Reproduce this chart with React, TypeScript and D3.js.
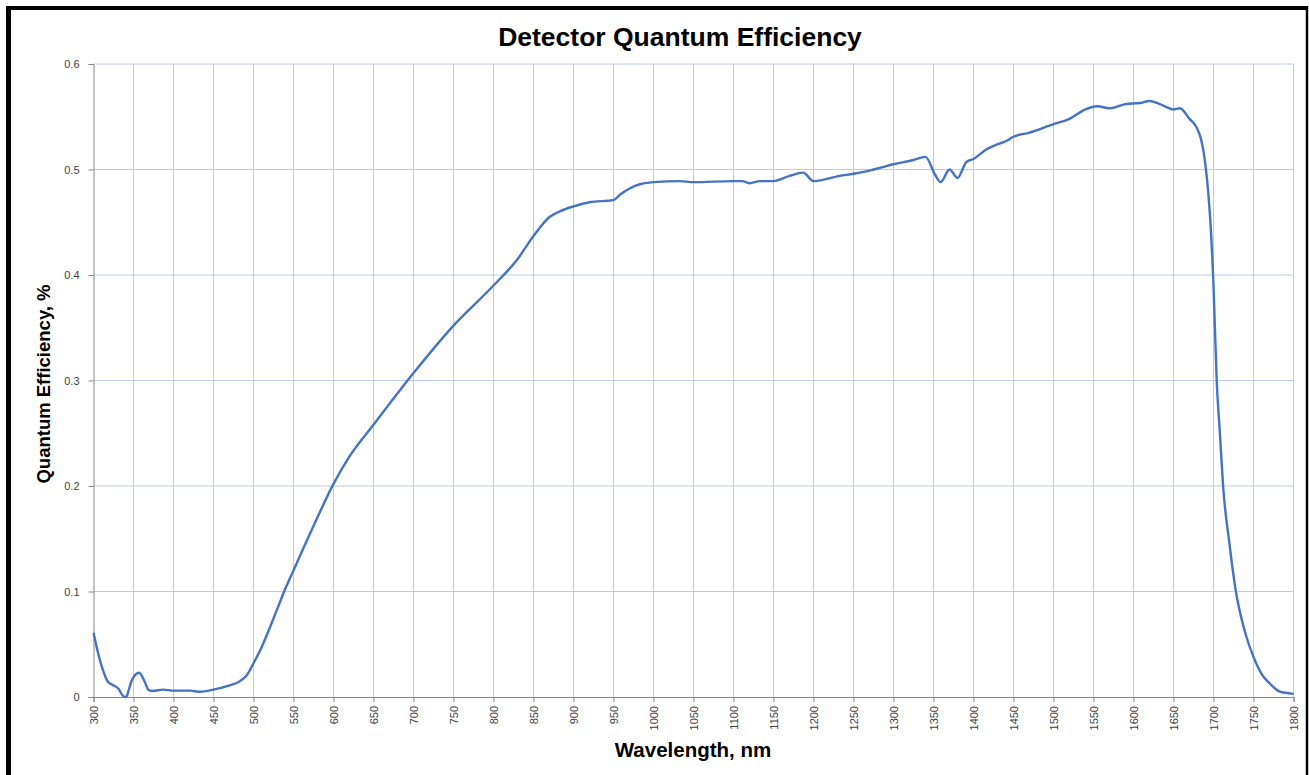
import { useEffect, useRef } from "react";
import * as d3 from "d3";

// wavelength (nm)
const wavelengths = [
  300, 308, 312, 318, 325, 331, 337, 341, 343, 348, 357, 364, 369, 374, 387, 400, 421, 433, 450,
  470, 483, 492, 500, 510, 520, 530, 540, 550, 575, 600, 620, 650, 700, 750, 800, 830, 850, 870, 885,
  900, 920, 950, 958, 970, 983, 1000, 1033, 1050, 1100, 1111, 1120, 1133, 1150, 1170, 1187, 1200, 1233,
  1250, 1270, 1285, 1300, 1325, 1340, 1352, 1359, 1370, 1380, 1391, 1400, 1416, 1427, 1441, 1450, 1470,
  1500, 1520, 1540, 1555, 1570, 1590, 1608, 1620, 1633, 1650, 1658, 1670, 1678, 1684, 1688, 1692,
  1696, 1700, 1704, 1708, 1712, 1720, 1728, 1740, 1750, 1760, 1770, 1783, 1790, 1800,
];
const efficiency = [
  0.061, 0.035, 0.025, 0.0145, 0.011, 0.008, 0.001, 0.0, 0.004, 0.016, 0.023, 0.0145, 0.0065,
  0.0057, 0.007, 0.006, 0.006, 0.005, 0.007, 0.011, 0.015, 0.021, 0.032, 0.047, 0.065, 0.084, 0.103,
  0.12, 0.162, 0.202, 0.228, 0.258, 0.307, 0.352, 0.39, 0.415, 0.437, 0.455, 0.461, 0.465, 0.469,
  0.471, 0.476, 0.482, 0.486, 0.488, 0.489, 0.488, 0.489, 0.489, 0.487, 0.489, 0.489, 0.494, 0.497,
  0.489, 0.494, 0.496, 0.499, 0.502, 0.505, 0.509, 0.512, 0.495, 0.488, 0.5, 0.492, 0.507, 0.51,
  0.519, 0.523, 0.527, 0.531, 0.535, 0.543, 0.548, 0.557, 0.56, 0.558, 0.562, 0.563, 0.565, 0.562,
  0.557, 0.558, 0.548, 0.541, 0.53, 0.515, 0.49, 0.452, 0.39, 0.3, 0.25, 0.2, 0.145, 0.1,
  0.06, 0.038, 0.022, 0.013, 0.005, 0.004, 0.003,
];
const xTicks = d3.range(300, 1801, 50);
const yTicks = [0, 0.1, 0.2, 0.3, 0.4, 0.5, 0.6];

const W = 1309;
const H = 775;

export default function App() {
  const ref = useRef<SVGSVGElement>(null);

  useEffect(() => {
    const svg = d3.select(ref.current);
    svg.selectAll("*").remove();

    const margin = { left: 93.5, right: 1293.5, top: 64, bottom: 697 };
    const x = d3.scaleLinear().domain([300, 1800]).range([margin.left, margin.right]);
    const y = d3.scaleLinear().domain([0, 0.6]).range([margin.bottom, margin.top]);

    svg.append("rect").attr("width", W).attr("height", H).attr("fill", "#fff");

    // frame: heavy on the left and top like the original
    svg.append("line").attr("x1", 8.5).attr("x2", 8.5).attr("y1", 6).attr("y2", H).attr("stroke", "#000").attr("stroke-width", 5);
    svg.append("line").attr("x1", 6).attr("x2", 1307).attr("y1", 8).attr("y2", 8).attr("stroke", "#000").attr("stroke-width", 4);
    svg.append("line").attr("x1", 1307).attr("x2", 1307).attr("y1", 6).attr("y2", H).attr("stroke", "#000").attr("stroke-width", 2.5);

    const grid = svg.append("g").attr("stroke", "#b9cbe9").attr("stroke-width", 1);
    xTicks.slice(1).forEach(t => {
      grid.append("line").attr("x1", x(t)).attr("x2", x(t)).attr("y1", margin.top).attr("y2", margin.bottom);
    });
    yTicks.slice(1).forEach(t => {
      grid.append("line").attr("x1", margin.left).attr("x2", margin.right).attr("y1", y(t)).attr("y2", y(t));
    });

    const font = "'Liberation Sans', Arial, sans-serif";

    // axes
    const xAxis = d3.axisBottom(x).tickValues(xTicks).tickSize(5).tickFormat(d => String(d));
    const gx = svg.append("g").attr("transform", `translate(0,${margin.bottom})`).call(xAxis);
    gx.select(".domain").attr("stroke", "#868686");
    gx.selectAll(".tick line").attr("stroke", "#868686");
    gx.selectAll(".tick text")
      .attr("transform", "rotate(-90)")
      .attr("x", -9)
      .attr("y", 0)
      .attr("dy", "0.35em")
      .attr("text-anchor", "end")
      .attr("fill", "#404040")
      .attr("font-size", 11)
      .attr("font-family", font);

    const yAxis = d3.axisLeft(y).tickValues(yTicks).tickSize(5).tickFormat(d => (d === 0 ? "0" : d3.format(".1f")(d as number)));
    const gy = svg.append("g").attr("transform", `translate(${margin.left},0)`).call(yAxis);
    gy.select(".domain").attr("stroke", "#868686");
    gy.selectAll(".tick line").attr("stroke", "#868686");
    gy.selectAll(".tick text")
      .attr("x", -14)
      .attr("fill", "#404040")
      .attr("font-size", 11)
      .attr("font-family", font);

    const pts = wavelengths.map((w, i) => [w, efficiency[i]] as [number, number]);
    const line = d3.line<[number, number]>()
      .x(d => x(d[0]))
      .y(d => y(d[1]))
      .curve(d3.curveMonotoneX);
    svg.append("path")
      .attr("d", line(pts))
      .attr("fill", "none")
      .attr("stroke", "#4472c4")
      .attr("stroke-width", 2.4)
      .attr("stroke-linejoin", "round");

    svg.append("text")
      .attr("x", 680).attr("y", 46)
      .attr("text-anchor", "middle")
      .attr("font-family", font).attr("font-weight", "bold").attr("font-size", 26.5)
      .text("Detector Quantum Efficiency");
    svg.append("text")
      .attr("x", 693).attr("y", 757)
      .attr("text-anchor", "middle")
      .attr("font-family", font).attr("font-weight", "bold").attr("font-size", 20.5)
      .text("Wavelength, nm");
    svg.append("text")
      .attr("transform", "translate(50,384) rotate(-90)")
      .attr("text-anchor", "middle")
      .attr("font-family", font).attr("font-weight", "bold").attr("font-size", 18.5)
      .text("Quantum Efficiency, %");
  }, []);

  return (
    <svg ref={ref} width={W} height={H} style={{ position: "absolute", left: 0, top: 0, display: "block" }} />
  );
}
